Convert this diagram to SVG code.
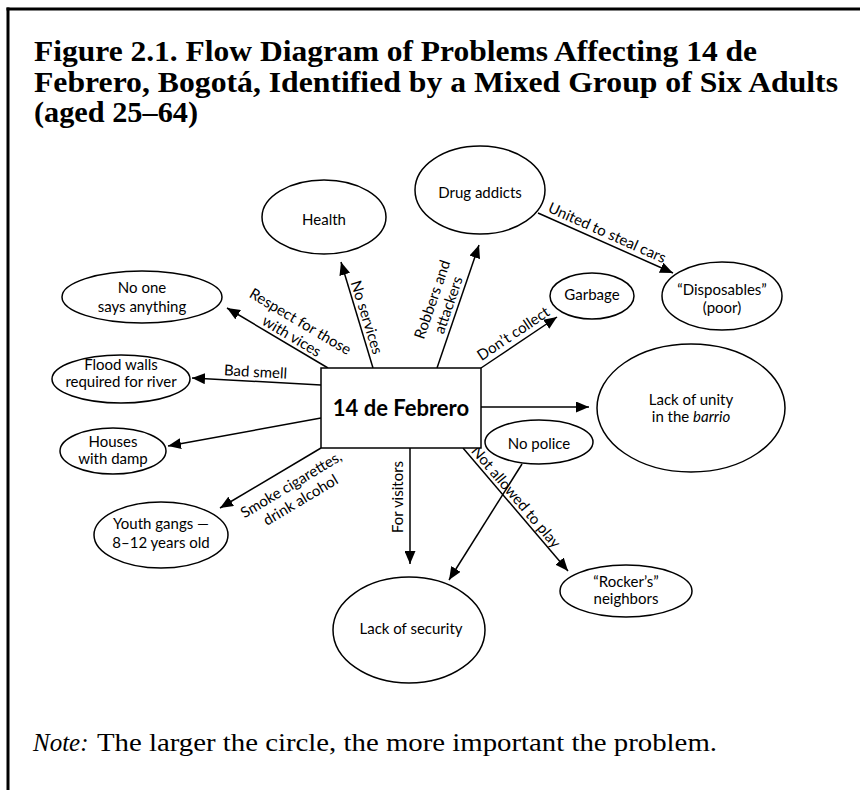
<svg xmlns="http://www.w3.org/2000/svg" width="860" height="790" viewBox="0 0 860 790">
  <defs>
    <marker id="arrow" markerUnits="userSpaceOnUse" markerWidth="13" markerHeight="11" refX="13" refY="5.5" orient="auto">
      <path d="M0,0 L13,5.5 L0,11 z" fill="#000"/>
    </marker>
    <style>
      .node { fill: #fff; stroke: #000; stroke-width: 1.5; }
      .lbl { font-family: Lato, "Open Sans", "Liberation Sans", sans-serif; font-size: 15px; fill: #000; text-anchor: middle; }
      .edge { font-family: Lato, "Open Sans", "Liberation Sans", sans-serif; font-size: 15px; fill: #000; text-anchor: middle; }
      .conn { stroke: #000; stroke-width: 1.5; fill: none; marker-end: url(#arrow); }
      .title { font-family: "Liberation Serif", "DejaVu Serif", serif; font-weight: bold; font-size: 29px; fill: #000; }
      .note { font-family: "Liberation Serif", "DejaVu Serif", serif; font-size: 25px; fill: #000; }
    </style>
  </defs>

  <rect x="0" y="0" width="860" height="790" fill="#fff"/>

  <!-- frame -->
  <g id="frame" stroke="#000" fill="none">
    <line x1="6.5" y1="9" x2="860" y2="9" stroke-width="3"/>
    <line x1="8" y1="7.5" x2="8" y2="790" stroke-width="3"/>
  </g>

  <!-- heading -->
  <g id="heading">
    <text class="title" x="34" y="61" textLength="723" lengthAdjust="spacingAndGlyphs">Figure 2.1. Flow Diagram of Problems Affecting 14 de</text>
    <text class="title" x="34" y="92" textLength="804" lengthAdjust="spacingAndGlyphs">Febrero, Bogotá, Identified by a Mixed Group of Six Adults</text>
    <text class="title" x="34" y="122" textLength="164" lengthAdjust="spacingAndGlyphs">(aged 25–64)</text>
  </g>

  <!-- connectors -->
  <g id="connectors">
    <line class="conn" x1="328" y1="368" x2="227" y2="308"/>
    <line class="conn" x1="373" y1="368" x2="341" y2="262"/>
    <line class="conn" x1="437" y1="368" x2="479" y2="245"/>
    <line class="conn" x1="481" y1="368" x2="557" y2="317"/>
    <line class="conn" x1="538" y1="213" x2="673" y2="273"/>
    <line class="conn" x1="321" y1="385" x2="192" y2="378"/>
    <line class="conn" x1="321" y1="418" x2="168" y2="446"/>
    <line class="conn" x1="321" y1="448" x2="220" y2="508"/>
    <line class="conn" x1="410" y1="448" x2="410" y2="564"/>
    <line class="conn" x1="481" y1="407" x2="589" y2="407"/>
    <line class="conn" x1="463" y1="448" x2="568" y2="571"/>
    <line class="conn" x1="522" y1="464" x2="449" y2="580"/>

    <!-- connector labels -->
    <g transform="translate(287,344) rotate(30.7)">
      <text class="edge" x="0" y="-21">Respect for those</text>
      <text class="edge" x="0" y="-4">with vices</text>
    </g>
    <g transform="translate(358,320) rotate(72.7)">
      <text class="edge" x="0" y="-4">No services</text>
    </g>
    <g transform="translate(457,308) rotate(-71)">
      <text class="edge" x="0" y="-21">Robbers and</text>
      <text class="edge" x="0" y="-4">attackers</text>
    </g>
    <g transform="translate(519,342) rotate(-34)">
      <text class="edge" x="0" y="-5">Don’t collect</text>
    </g>
    <g transform="translate(603,242) rotate(24)">
      <text class="edge" x="0" y="-5">United to steal cars</text>
    </g>
    <g transform="translate(255,381) rotate(3)">
      <text class="edge" x="0" y="-4">Bad smell</text>
    </g>
    <g transform="translate(283,471) rotate(-31)">
      <text class="edge" x="0" y="21">Smoke cigarettes,</text>
      <text class="edge" x="0" y="39">drink alcohol</text>
    </g>
    <g transform="translate(410,497) rotate(-90)">
      <text class="edge" x="0" y="-7">For visitors</text>
    </g>
    <g transform="translate(508,500) rotate(49.5)">
      <text class="edge" x="3" y="-3">Not allowed to play</text>
    </g>
  </g>

  <!-- nodes -->
  <g id="n-center">
    <rect class="node" x="321" y="368" width="160" height="80"/>
    <text class="lbl" x="401" y="416" style="font-weight:bold;font-size:22px">14 de Febrero</text>
  </g>
  <g id="n-health">
    <ellipse class="node" cx="324" cy="217" rx="62" ry="37"/>
    <text class="lbl" x="324" y="225">Health</text>
  </g>
  <g id="n-drug">
    <ellipse class="node" cx="480" cy="190" rx="65" ry="44"/>
    <text class="lbl" x="480" y="198">Drug addicts</text>
  </g>
  <g id="n-disposables">
    <ellipse class="node" cx="722" cy="296" rx="60" ry="34"/>
    <text class="lbl" x="722" y="295">“Disposables”</text>
    <text class="lbl" x="722" y="313">(poor)</text>
  </g>
  <g id="n-garbage">
    <ellipse class="node" cx="592" cy="296" rx="42" ry="23"/>
    <text class="lbl" x="592" y="300">Garbage</text>
  </g>
  <g id="n-noone">
    <ellipse class="node" cx="142" cy="297" rx="80" ry="26"/>
    <text class="lbl" x="142" y="293">No one</text>
    <text class="lbl" x="142" y="312">says anything</text>
  </g>
  <g id="n-flood">
    <ellipse class="node" cx="121" cy="379" rx="69" ry="24"/>
    <text class="lbl" x="121" y="370">Flood walls</text>
    <text class="lbl" x="121" y="387">required for river</text>
  </g>
  <g id="n-houses">
    <ellipse class="node" cx="113" cy="451" rx="53" ry="23"/>
    <text class="lbl" x="113" y="447">Houses</text>
    <text class="lbl" x="113" y="464">with damp</text>
  </g>
  <g id="n-youth">
    <ellipse class="node" cx="161" cy="535" rx="67" ry="33"/>
    <text class="lbl" x="161" y="529">Youth gangs —</text>
    <text class="lbl" x="161" y="548">8–12 years old</text>
  </g>
  <g id="n-unity">
    <ellipse class="node" cx="691" cy="408" rx="94" ry="64"/>
    <text class="lbl" x="691" y="405">Lack of unity</text>
    <text class="lbl" x="691" y="422">in the <tspan font-style="italic">barrio</tspan></text>
  </g>
  <g id="n-police">
    <ellipse class="node" cx="539" cy="442" rx="54" ry="22"/>
    <text class="lbl" x="539" y="449">No police</text>
  </g>
  <g id="n-security">
    <ellipse class="node" cx="409" cy="630" rx="76" ry="53"/>
    <text class="lbl" x="411" y="634">Lack of security</text>
  </g>
  <g id="n-rockers">
    <ellipse class="node" cx="626" cy="591" rx="66" ry="26"/>
    <text class="lbl" x="626" y="587">“Rocker’s”</text>
    <text class="lbl" x="626" y="604">neighbors</text>
  </g>

  <!-- footnote -->
  <g id="footnote">
    <text class="note" x="33" y="751" font-style="italic">Note:</text>
    <text class="note" x="97" y="751" textLength="620" lengthAdjust="spacingAndGlyphs">The larger the circle, the more important the problem.</text>
  </g>
</svg>
